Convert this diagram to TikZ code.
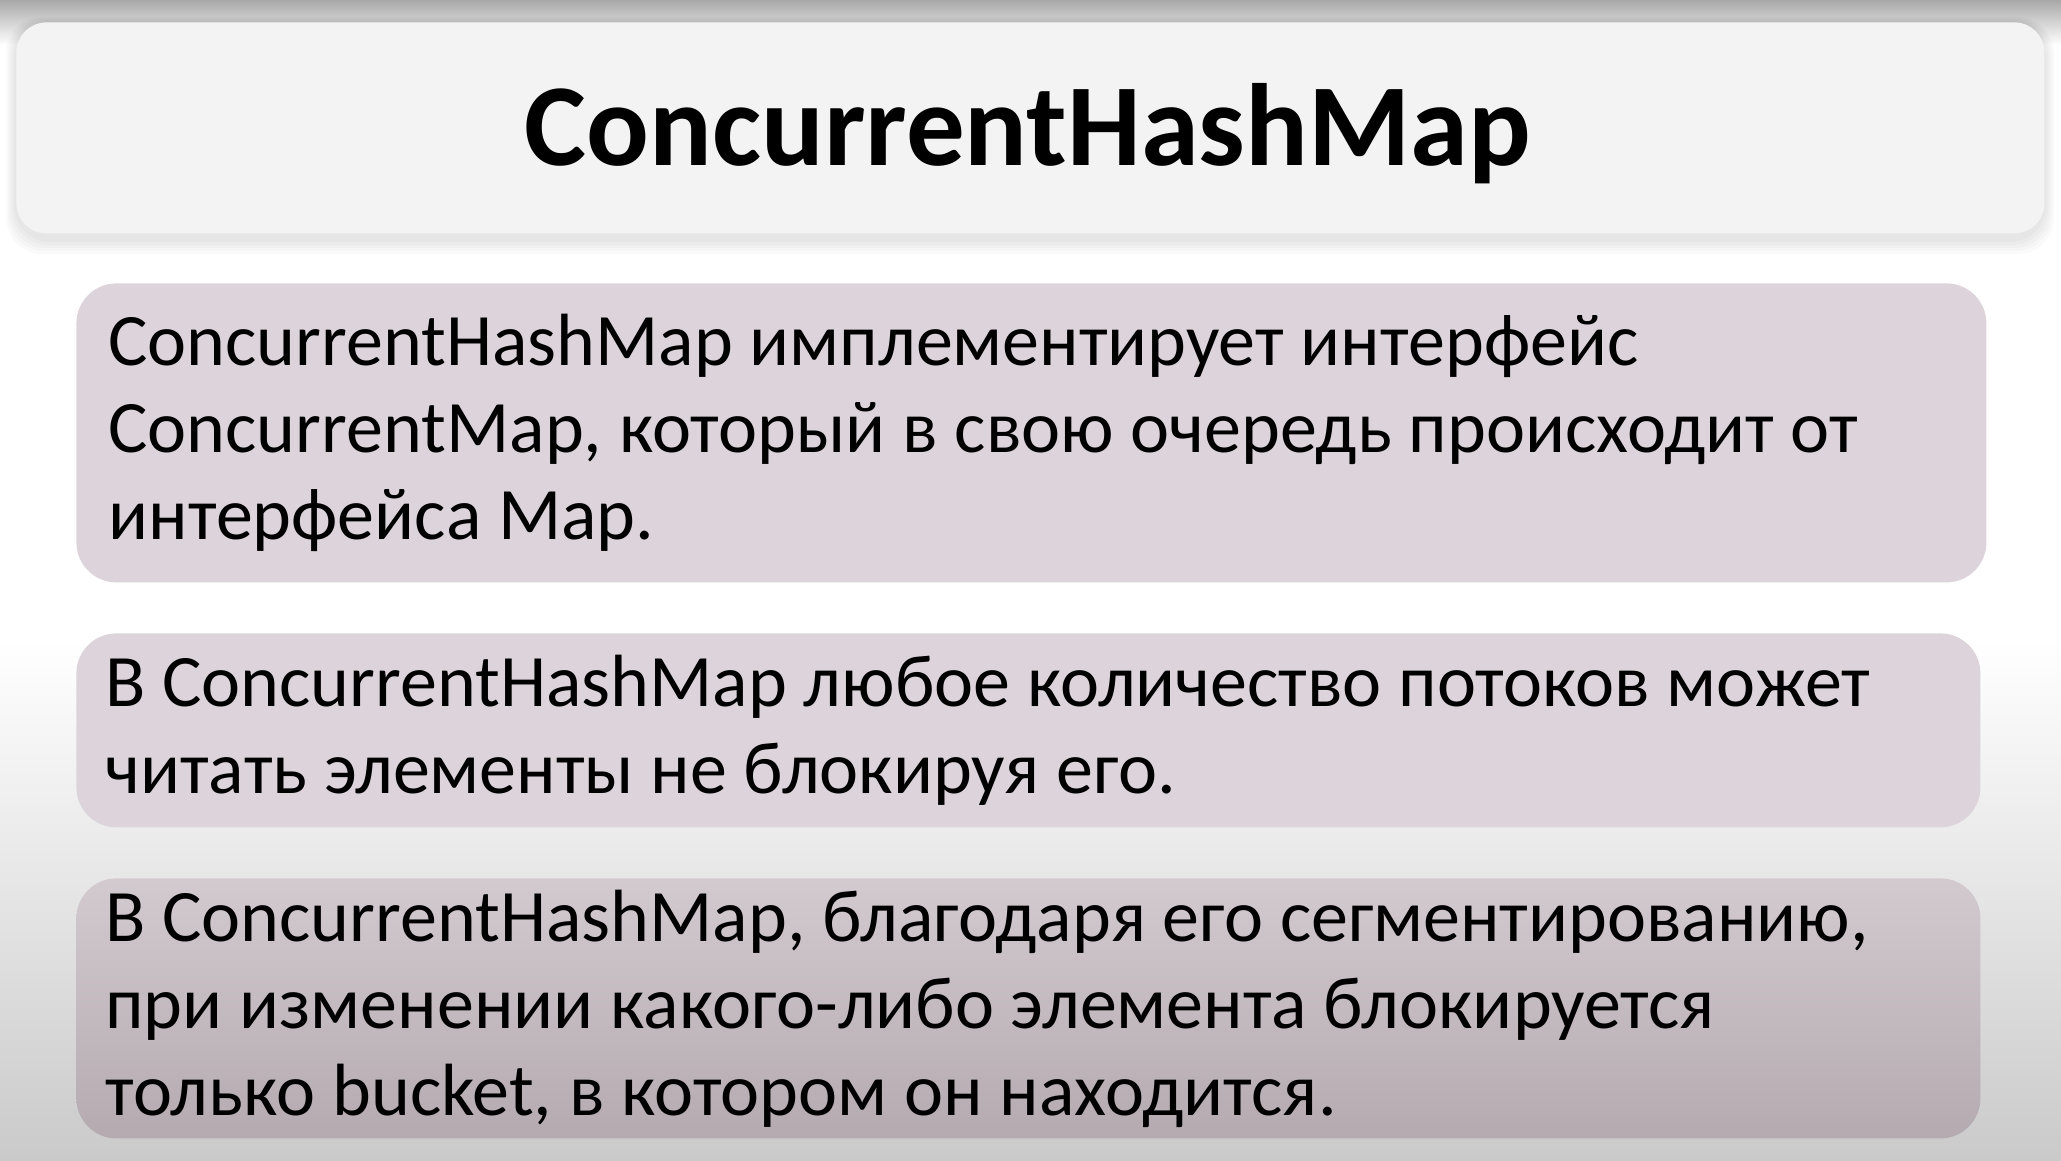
\documentclass[tikz,border=0pt]{standalone}
\usepackage{fontspec}
\setmainfont{Carlito}
\usetikzlibrary{positioning}
\definecolor{boxfill}{RGB}{220,212,218}
\definecolor{lasttop}{RGB}{211,202,207}
\definecolor{lastbot}{RGB}{180,170,176}
\definecolor{headfill}{RGB}{243,243,243}
\definecolor{topgray}{RGB}{168,168,168}
\definecolor{botgray}{RGB}{202,202,202}

\begin{document}
\begin{tikzpicture}[x=0.5pt,y=0.5pt,
  slide/.style={rounded corners=20pt,inner xsep=16pt,inner ysep=0pt,
    text width=923pt,align=flush left,anchor=north west,
    font=\fontsize{37}{43.5}\selectfont}]
\useasboundingbox (0,0) rectangle (2061,1161);
\fill[white] (0,0) rectangle (2061,1161);
\shade[top color=topgray,bottom color=white] (0,1116) rectangle (2061,1161);
\shade[top color=white,bottom color=botgray] (0,0) rectangle (2061,520);
% title bar
\foreach \s in {1,...,5}
  \fill[black,opacity=0.02,rounded corners=18pt]
    (16-2*\s,922-3*\s) rectangle (2044+2*\s,1139+\s);
\node[fill=headfill,rounded corners=15pt,inner sep=0pt,minimum width=1014pt,
  minimum height=105.5pt,anchor=north west] (head) at (16,1139) {};
\node[font=\fontsize{58.5}{70}\selectfont\bfseries,anchor=base] (title)
  at (1028,995) {ConcurrentHashMap};
% text boxes
\node[slide,fill=boxfill,minimum height=149.5pt] (first) at (76,878)
  {ConcurrentHashMap имплементирует интерфейс\\
   ConcurrentMap, который в свою очередь происходит от\\
   интерфейса Map.};
\node[slide,fill=boxfill,minimum height=97pt,inner xsep=14.5pt] (second) at (76,528)
  {В ConcurrentHashMap любое количество потоков может\\
   читать элементы не блокируя его.};
\node[slide,top color=lasttop,bottom color=lastbot,minimum height=130pt,
  inner xsep=14.5pt] (third) at (76,283)
  {В ConcurrentHashMap, благодаря его сегментированию,\\
   при изменении какого-либо элемента блокируется\\
   только bucket, в котором он находится.};
\end{tikzpicture}
\end{document}
